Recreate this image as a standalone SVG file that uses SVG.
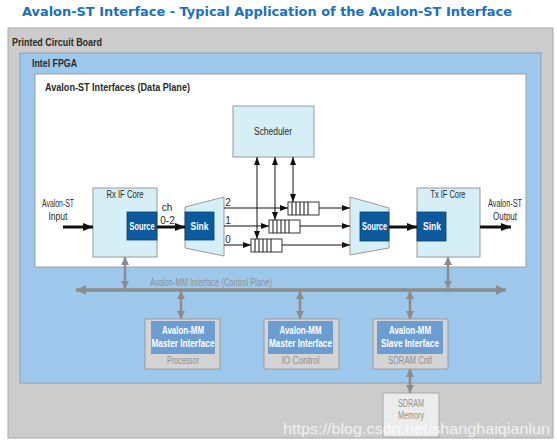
<svg xmlns="http://www.w3.org/2000/svg" width="557" height="442" viewBox="0 0 557 442">
<style>
.t{font-family:"Liberation Sans",Arial,sans-serif;fill:#2a2a2a;font-size:10px}
.b{font-weight:bold}
.w{fill:#ffffff;font-weight:bold}
.g{fill:#8f8f8f}
.core{fill:#d6eef6;stroke:#9a9a9a;stroke-width:1}
.dk{fill:#0b5a9e;stroke:#0a3f70;stroke-width:0.8}
.mm{fill:#6d9dd0}
.gb{fill:#d4d4d4;stroke:#9a9a9a;stroke-width:1}
.fifo{fill:#ffffff;stroke:#222;stroke-width:0.9}
.thin{stroke:#111;stroke-width:1;fill:none}
.thick{stroke:#111;stroke-width:3;fill:none}
.gl{stroke:#8c8c8c;stroke-width:2.5;fill:none}
</style>
<defs>
<marker id="ah" viewBox="0 0 8 6" refX="8" refY="3" markerWidth="8" markerHeight="6" markerUnits="userSpaceOnUse" orient="auto-start-reverse"><path d="M0,0L8,3L0,6z" fill="#111"/></marker>
<marker id="ahT" viewBox="0 0 10 8" refX="10" refY="4" markerWidth="10" markerHeight="8" markerUnits="userSpaceOnUse" orient="auto"><path d="M0,0L10,4L0,8z" fill="#111"/></marker>
<marker id="ahG" viewBox="0 0 8 8" refX="8" refY="4" markerWidth="8" markerHeight="8" markerUnits="userSpaceOnUse" orient="auto-start-reverse"><path d="M0,0L8,4L0,8z" fill="#8c8c8c"/></marker>
<marker id="ahB" viewBox="0 0 10 10" refX="10" refY="5" markerWidth="10" markerHeight="10" markerUnits="userSpaceOnUse" orient="auto-start-reverse"><path d="M0,0L10,5L0,10z" fill="#8c8c8c"/></marker>
</defs>
<rect width="557" height="442" fill="#ffffff"/>
<text x="267" y="16" text-anchor="middle" font-family="DejaVu Sans,Verdana,sans-serif" font-weight="bold" font-size="13" fill="#1a6fc0" textLength="490" lengthAdjust="spacingAndGlyphs">Avalon-ST Interface - Typical Application of the Avalon-ST Interface</text>

<g id="pcb">
<rect x="8" y="28" width="545" height="410" fill="#cccccc" stroke="#a8a8a8" stroke-width="1"/>
<text class="t b" x="12" y="46" textLength="90" lengthAdjust="spacingAndGlyphs" font-size="11">Printed Circuit Board</text>
</g>
<g id="fpga">
<rect x="20" y="53" width="521" height="330" fill="#9dc8ec" stroke="#8aa0b4" stroke-width="1"/>
<text class="t b" x="32" y="67" textLength="45" lengthAdjust="spacingAndGlyphs" font-size="11">Intel FPGA</text>
</g>
<g id="dataplane">
<rect x="35" y="74" width="491" height="193" fill="#ffffff" stroke="#a0a0a0" stroke-width="1"/>
<text class="t b" x="45" y="91" textLength="145" lengthAdjust="spacingAndGlyphs" font-size="10.5">Avalon-ST Interfaces (Data Plane)</text>
</g>

<g id="scheduler">
<rect class="core" x="233" y="106" width="81" height="51"/>
<text class="t" x="273" y="135" text-anchor="middle" textLength="38" lengthAdjust="spacingAndGlyphs">Scheduler</text>
</g>

<g id="rx-core">
<rect class="core" x="93" y="188" width="64" height="69"/>
<text class="t" x="125" y="198" text-anchor="middle" textLength="37" lengthAdjust="spacingAndGlyphs">Rx IF Core</text>
<rect class="dk" x="127" y="212" width="30" height="28"/>
<text class="t w" x="142" y="230" text-anchor="middle" textLength="25" lengthAdjust="spacingAndGlyphs">Source</text>
</g>

<g id="demux">
<polygon points="185,207 224,197 224,256 185,248" fill="#d6eef6" stroke="#9a9a9a" stroke-width="1"/>
<rect class="dk" x="185" y="212" width="29" height="28"/>
<text class="t w" x="199.5" y="230" text-anchor="middle" textLength="18" lengthAdjust="spacingAndGlyphs">Sink</text>
</g>

<g id="mux">
<polygon points="350,197 389,208 389,248 350,255" fill="#d6eef6" stroke="#9a9a9a" stroke-width="1"/>
<rect class="dk" x="360" y="212" width="29" height="29"/>
<text class="t w" x="374.5" y="230" text-anchor="middle" textLength="25" lengthAdjust="spacingAndGlyphs">Source</text>
</g>

<g id="tx-core">
<rect class="core" x="417" y="188" width="63" height="69"/>
<text class="t" x="448" y="198" text-anchor="middle" textLength="35" lengthAdjust="spacingAndGlyphs">Tx IF Core</text>
<rect class="dk" x="417" y="212" width="29" height="29"/>
<text class="t w" x="432" y="230" text-anchor="middle" textLength="18" lengthAdjust="spacingAndGlyphs">Sink</text>
</g>

<g id="fifo2">
<rect class="fifo" x="288" y="202" width="31" height="13"/>
<path class="thin" d="M292,202V215M296,202V215M300,202V215M304,202V215M308,202V215"/>
</g>
<g id="fifo1">
<rect class="fifo" x="269" y="220" width="31" height="13"/>
<path class="thin" d="M273,220V233M277,220V233M281,220V233M285,220V233M289,220V233"/>
</g>
<g id="fifo0">
<rect class="fifo" x="251" y="239" width="31" height="13"/>
<path class="thin" d="M255,239V252M259,239V252M263,239V252M267,239V252M271,239V252"/>
</g>

<g id="processor">
<rect class="gb" x="145" y="319" width="75" height="50"/>
<rect class="mm" x="151" y="321" width="64" height="33"/>
<text class="t w" x="183" y="334" text-anchor="middle" textLength="42" lengthAdjust="spacingAndGlyphs">Avalon-MM</text>
<text class="t w" x="183" y="347" text-anchor="middle" textLength="63" lengthAdjust="spacingAndGlyphs">Master Interface</text>
<text class="t g" x="183" y="364" text-anchor="middle" textLength="32" lengthAdjust="spacingAndGlyphs" font-size="9.5">Processor</text>
</g>
<g id="iocontrol">
<rect class="gb" x="264" y="319" width="75" height="50"/>
<rect class="mm" x="268" y="321" width="65" height="33"/>
<text class="t w" x="300.5" y="334" text-anchor="middle" textLength="42" lengthAdjust="spacingAndGlyphs">Avalon-MM</text>
<text class="t w" x="300.5" y="347" text-anchor="middle" textLength="63" lengthAdjust="spacingAndGlyphs">Master Interface</text>
<text class="t g" x="300.5" y="364" text-anchor="middle" textLength="38" lengthAdjust="spacingAndGlyphs" font-size="9.5">IO Control</text>
</g>
<g id="sdramcntl">
<rect class="gb" x="373" y="319" width="75" height="50"/>
<rect class="mm" x="377" y="321" width="66" height="33"/>
<text class="t w" x="410" y="334" text-anchor="middle" textLength="42" lengthAdjust="spacingAndGlyphs">Avalon-MM</text>
<text class="t w" x="410" y="347" text-anchor="middle" textLength="58" lengthAdjust="spacingAndGlyphs">Slave Interface</text>
<text class="t g" x="410" y="364" text-anchor="middle" textLength="44" lengthAdjust="spacingAndGlyphs" font-size="9.5">SDRAM Cntl</text>
</g>
<g id="sdrammem">
<rect x="383" y="393" width="56" height="44" fill="#ececec" stroke="#a8a8a8" stroke-width="1"/>
<text class="t g" x="411" y="407" text-anchor="middle" textLength="26" lengthAdjust="spacingAndGlyphs" font-size="9.5">SDRAM</text>
<text class="t g" x="411" y="419" text-anchor="middle" textLength="26" lengthAdjust="spacingAndGlyphs" font-size="9.5">Memory</text>
</g>

<g id="connectors">
<line class="thick" x1="63" y1="227" x2="93" y2="227" marker-end="url(#ahT)"/>
<line class="thick" x1="157" y1="227" x2="185" y2="227" marker-end="url(#ahT)"/>
<line class="thick" x1="389" y1="227" x2="417" y2="227" marker-end="url(#ahT)"/>
<line class="thick" x1="480" y1="227" x2="511" y2="227" marker-end="url(#ahT)"/>
<line class="thin" x1="224" y1="208" x2="288" y2="208" marker-end="url(#ah)"/>
<line class="thin" x1="224" y1="226" x2="269" y2="226" marker-end="url(#ah)"/>
<line class="thin" x1="224" y1="245" x2="251" y2="245" marker-end="url(#ah)"/>
<line class="thin" x1="319" y1="208" x2="350" y2="208" marker-end="url(#ah)"/>
<line class="thin" x1="300" y1="226" x2="350" y2="226" marker-end="url(#ah)"/>
<line class="thin" x1="282" y1="245" x2="350" y2="245" marker-end="url(#ah)"/>
<line class="thin" x1="257" y1="157" x2="257" y2="239" marker-start="url(#ah)" marker-end="url(#ah)"/>
<line class="thin" x1="275" y1="157" x2="275" y2="220" marker-start="url(#ah)" marker-end="url(#ah)"/>
<line class="thin" x1="293" y1="157" x2="293" y2="202" marker-start="url(#ah)" marker-end="url(#ah)"/>
<line stroke="#8c8c8c" stroke-width="3.5" x1="76" y1="290" x2="506" y2="290" marker-start="url(#ahB)" marker-end="url(#ahB)"/>
<line class="gl" x1="125" y1="257" x2="125" y2="289" marker-start="url(#ahG)" marker-end="url(#ahG)"/>
<line class="gl" x1="448" y1="257" x2="448" y2="289" marker-start="url(#ahG)" marker-end="url(#ahG)"/>
<line class="gl" x1="181" y1="291" x2="181" y2="319" marker-start="url(#ahG)" marker-end="url(#ahG)"/>
<line class="gl" x1="300" y1="291" x2="300" y2="319" marker-start="url(#ahG)" marker-end="url(#ahG)"/>
<line class="gl" x1="410" y1="291" x2="410" y2="319" marker-start="url(#ahG)" marker-end="url(#ahG)"/>
<line class="gl" x1="410" y1="369" x2="410" y2="393" marker-start="url(#ahG)" marker-end="url(#ahG)"/>
</g>

<g id="labels">
<text class="t" x="58" y="207" text-anchor="middle" textLength="32" lengthAdjust="spacingAndGlyphs" font-size="9.5">Avalon-ST</text>
<text class="t" x="58" y="220" text-anchor="middle" textLength="19" lengthAdjust="spacingAndGlyphs" font-size="9.5">Input</text>
<text class="t" x="505" y="207" text-anchor="middle" textLength="34" lengthAdjust="spacingAndGlyphs" font-size="9.5">Avalon-ST</text>
<text class="t" x="505" y="220" text-anchor="middle" textLength="24" lengthAdjust="spacingAndGlyphs" font-size="9.5">Output</text>
<text class="t" x="167" y="211" text-anchor="middle" font-size="9.5">ch</text>
<text class="t" x="167.5" y="224" text-anchor="middle" font-size="9.5">0-2</text>
<text class="t" x="228" y="206" text-anchor="middle" font-size="9">2</text>
<text class="t" x="228" y="224" text-anchor="middle" font-size="9">1</text>
<text class="t" x="228" y="243" text-anchor="middle" font-size="9">0</text>
<text class="t g" x="150" y="286" textLength="122" lengthAdjust="spacingAndGlyphs" font-size="9.5">Avalon-MM Interface (Control Plane)</text>
</g>
<text x="283" y="434" font-family="Liberation Sans,Arial,sans-serif" font-size="15" fill="#ffffff" fill-opacity="0.75" textLength="267" lengthAdjust="spacingAndGlyphs">https://blog.csdn.net/shanghaiqianlun</text>
</svg>
